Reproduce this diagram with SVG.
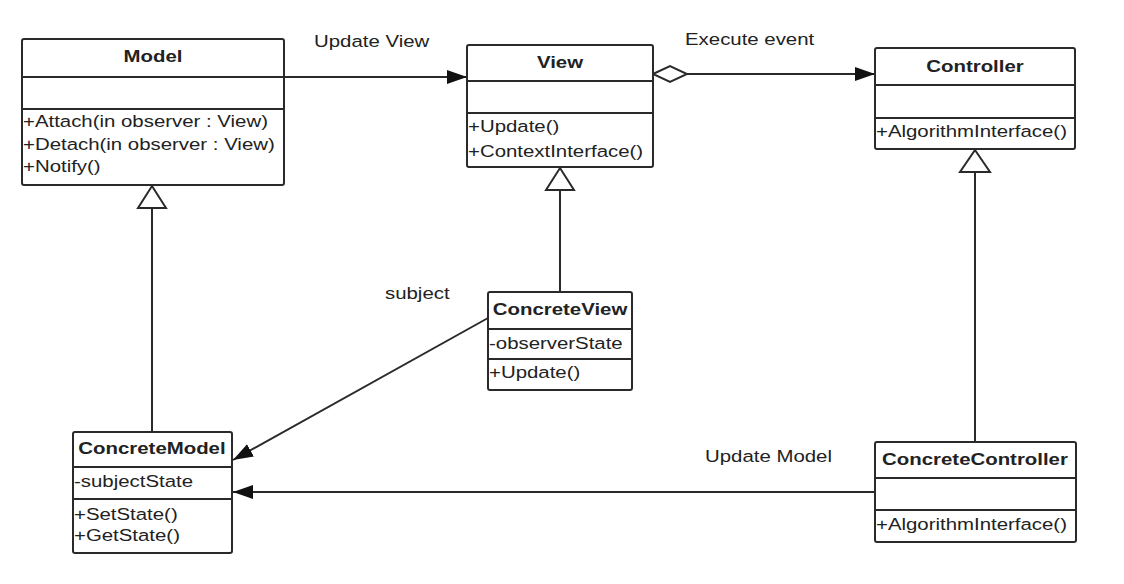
<svg xmlns="http://www.w3.org/2000/svg" width="1124" height="584" viewBox="0 0 1124 584">
  <style>
    .box{fill:#fff;stroke:#2a2a2a;stroke-width:2}
    .div{stroke:#2a2a2a;stroke-width:2}
    .t{font-family:"Liberation Sans",Arial,Helvetica,sans-serif;font-size:17px;fill:#222}
    .b{font-weight:bold}
    .c{text-anchor:middle}
    .edge{fill:none;stroke:#2a2a2a;stroke-width:2}
    .hollow{fill:#fff;stroke:#2a2a2a;stroke-width:2}
  </style>
  <defs>
    <marker id="arrow" viewBox="0 0 20 14" refX="20" refY="7" markerWidth="20" markerHeight="14" markerUnits="userSpaceOnUse" orient="auto">
      <path d="M0,0 L20,7 L0,14 Z" fill="#111"/>
    </marker>
  </defs>
  <rect width="1124" height="584" fill="#fff"/>

  <!-- connectors -->
  <g id="connectors">
    <!-- Model -> View -->
    <line class="edge" x1="284" y1="77" x2="467" y2="77" marker-end="url(#arrow)"/>
    <!-- View <>-> Controller -->
    <line class="edge" x1="687" y1="74" x2="875" y2="74" marker-end="url(#arrow)"/>
    <path class="hollow" d="M653,74 L670,66 L687,74 L670,82 Z"/>
    <!-- ConcreteView -> ConcreteModel -->
    <line class="edge" x1="488" y1="318" x2="233" y2="460" marker-end="url(#arrow)"/>
    <!-- ConcreteController -> ConcreteModel -->
    <line class="edge" x1="875" y1="492" x2="233" y2="492" marker-end="url(#arrow)"/>
    <!-- generalizations -->
    <line class="edge" x1="152" y1="208" x2="152" y2="432"/>
    <path class="hollow" d="M152,186 L166,208 L138,208 Z"/>
    <line class="edge" x1="560" y1="190" x2="560" y2="292"/>
    <path class="hollow" d="M560,168 L574,190 L546,190 Z"/>
    <line class="edge" x1="975" y1="172" x2="975" y2="442"/>
    <path class="hollow" d="M975,150 L990,172 L960,172 Z"/>
  </g>

  <!-- edge labels -->
  <g id="labels">
    <text class="t" transform="translate(314,47) scale(1.2,1)">Update View</text>
    <text class="t" transform="translate(685,45) scale(1.2,1)">Execute event</text>
    <text class="t" transform="translate(385,299) scale(1.2,1)">subject</text>
    <text class="t" transform="translate(705,462) scale(1.2,1)">Update Model</text>
  </g>

  <g id="Model">
    <rect class="box" x="22" y="39" width="262" height="146" rx="2"/>
    <line class="div" x1="22" y1="77" x2="284" y2="77"/>
    <line class="div" x1="22" y1="109" x2="284" y2="109"/>
    <text class="t b c" transform="translate(153,62) scale(1.2,1)">Model</text>
    <text class="t" transform="translate(23,127) scale(1.2,1)">+Attach(in observer : View)</text>
    <text class="t" transform="translate(23,150) scale(1.2,1)">+Detach(in observer : View)</text>
    <text class="t" transform="translate(23,172) scale(1.2,1)">+Notify()</text>
  </g>

  <g id="View">
    <rect class="box" x="467" y="45" width="186" height="122" rx="2"/>
    <line class="div" x1="467" y1="81" x2="653" y2="81"/>
    <line class="div" x1="467" y1="113" x2="653" y2="113"/>
    <text class="t b c" transform="translate(560,68) scale(1.2,1)">View</text>
    <text class="t" transform="translate(468,132) scale(1.2,1)">+Update()</text>
    <text class="t" transform="translate(468,157) scale(1.2,1)">+ContextInterface()</text>
  </g>

  <g id="Controller">
    <rect class="box" x="875" y="48" width="200" height="101" rx="2"/>
    <line class="div" x1="875" y1="85" x2="1075" y2="85"/>
    <line class="div" x1="875" y1="118" x2="1075" y2="118"/>
    <text class="t b c" transform="translate(975,72) scale(1.2,1)">Controller</text>
    <text class="t" transform="translate(876,137) scale(1.2,1)">+AlgorithmInterface()</text>
  </g>

  <g id="ConcreteView">
    <rect class="box" x="488" y="292" width="144" height="98" rx="2"/>
    <line class="div" x1="488" y1="329" x2="632" y2="329"/>
    <line class="div" x1="488" y1="359" x2="632" y2="359"/>
    <text class="t b c" transform="translate(560,315) scale(1.2,1)">ConcreteView</text>
    <text class="t" transform="translate(489,349) scale(1.2,1)">-observerState</text>
    <text class="t" transform="translate(489,378) scale(1.2,1)">+Update()</text>
  </g>

  <g id="ConcreteModel">
    <rect class="box" x="73" y="432" width="159" height="121" rx="2"/>
    <line class="div" x1="73" y1="467" x2="232" y2="467"/>
    <line class="div" x1="73" y1="499" x2="232" y2="499"/>
    <text class="t b c" transform="translate(152,454) scale(1.2,1)">ConcreteModel</text>
    <text class="t" transform="translate(74,487) scale(1.2,1)">-subjectState</text>
    <text class="t" transform="translate(74,520) scale(1.2,1)">+SetState()</text>
    <text class="t" transform="translate(74,541) scale(1.2,1)">+GetState()</text>
  </g>

  <g id="ConcreteController">
    <rect class="box" x="875" y="442" width="201" height="100" rx="2"/>
    <line class="div" x1="875" y1="478" x2="1076" y2="478"/>
    <line class="div" x1="875" y1="510" x2="1076" y2="510"/>
    <text class="t b c" transform="translate(975,465) scale(1.2,1)">ConcreteController</text>
    <text class="t" transform="translate(876,530) scale(1.2,1)">+AlgorithmInterface()</text>
  </g>
</svg>
